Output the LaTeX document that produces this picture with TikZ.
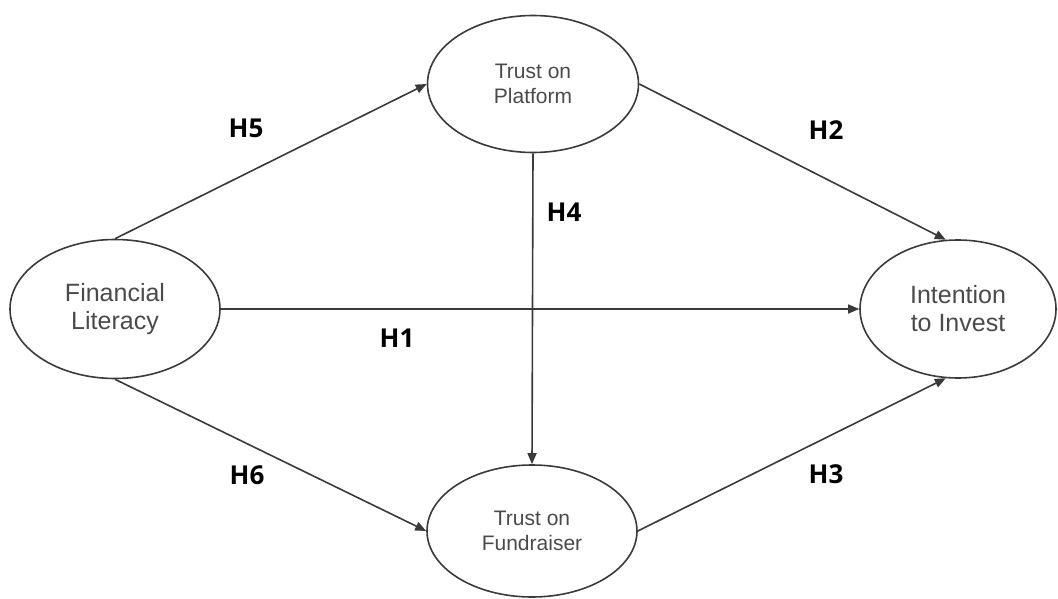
\documentclass[tikz,border=0pt]{standalone}
\usepackage{fontspec}
\setmainfont{Liberation Sans}
\newfontfamily\labfont{Open Sans}
\usetikzlibrary{shapes.geometric,arrows.meta}
\definecolor{linec}{HTML}{3A3A3A}
\definecolor{txtc}{HTML}{4A4A4A}
\begin{document}
\begin{tikzpicture}[x=1pt,y=-1pt,
  construct/.style={ellipse,draw=linec,line width=1.6pt,inner sep=0pt,align=center,text=txtc},
  big/.style={font=\fontsize{25}{28}\selectfont},
  small/.style={font=\fontsize{21}{25}\selectfont},
  path/.style={draw=linec,line width=1.6pt,-{Triangle[length=11pt,width=9pt]}},
  hyp/.style={font=\labfont\bfseries\fontsize{26}{30}\selectfont,text=black}]
\useasboundingbox (0,0) rectangle (1058,599);
\node[construct,big,minimum width=210pt,minimum height=139pt] (FL) at (115,309) {Financial\\Literacy};
\node[construct,small,minimum width=211pt,minimum height=137pt] (TP) at (533,84) {Trust on\\Platform};
\node[construct,big,minimum width=196pt,minimum height=138pt] (II) at (958,309) {Intention\\to Invest};
\node[construct,small,minimum width=210pt,minimum height=132pt] (TF) at (532,531) {Trust on\\Fundraiser};
\draw[path] (FL.north) -- (TP.west);
\draw[path] (TP.east) -- (II.100);
\draw[path] (TP.south) -- (TF.north);
\draw[path] (FL.east) -- (II.west);
\draw[path] (FL.south) -- (TF.west);
\draw[path] (TF.east) -- (II.260);
\node[hyp] (h5) at (246,128) {H5};
\node[hyp] (h2) at (826,130) {H2};
\node[hyp] (h4) at (564,212) {H4};
\node[hyp] (h1) at (397,338) {H1};
\node[hyp] (h6) at (247,475) {H6};
\node[hyp] (h3) at (826,474) {H3};
\end{tikzpicture}
\end{document}
